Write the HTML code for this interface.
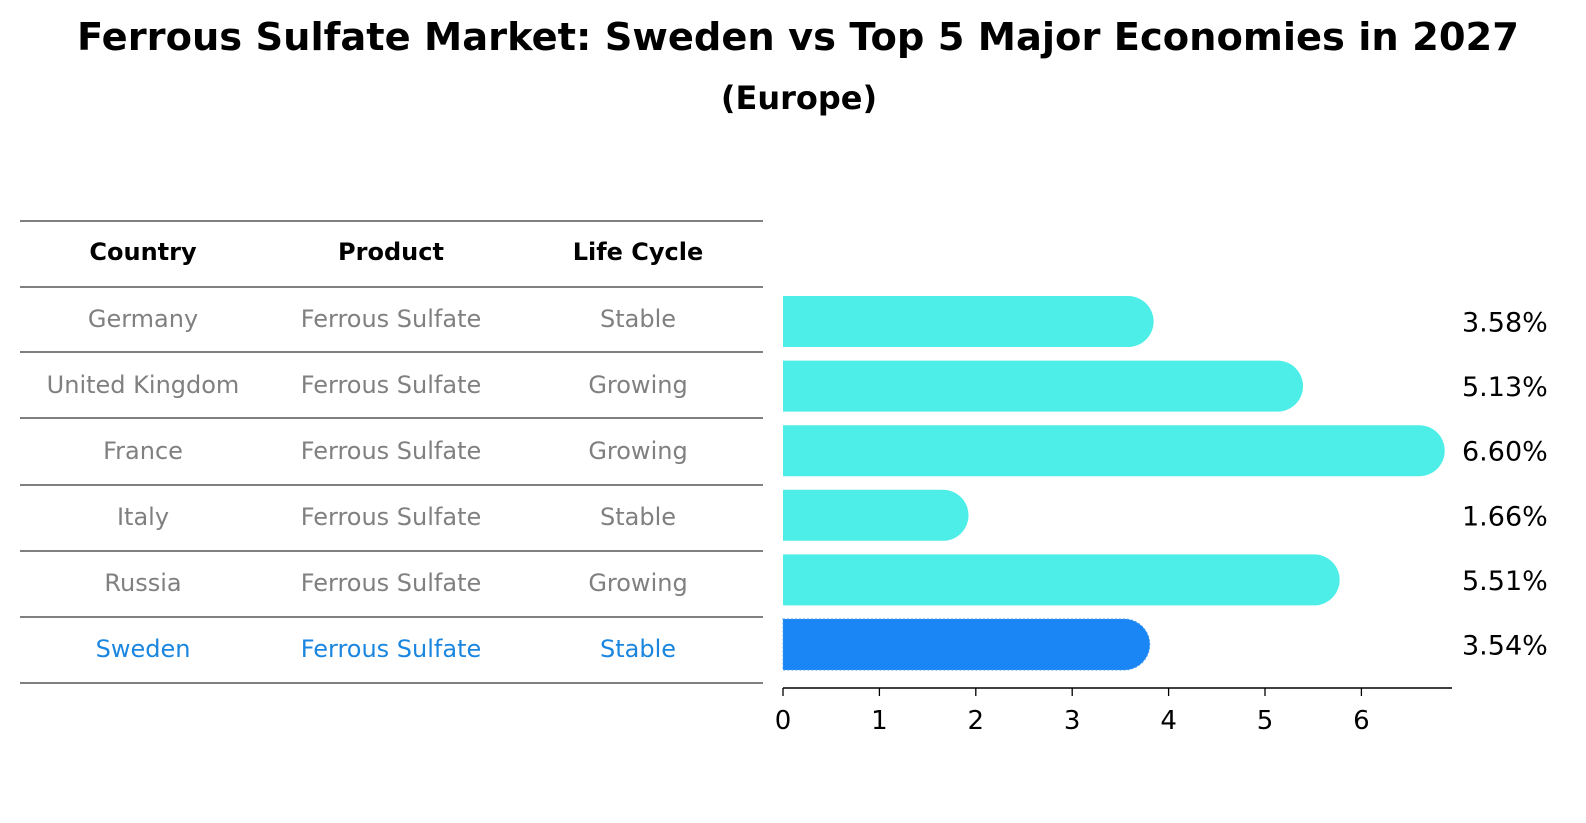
<!DOCTYPE html>
<html><head><meta charset="utf-8"><style>
html,body{margin:0;padding:0;background:#fff;overflow:hidden;width:1586px;height:823px}
svg{display:block}
</style></head><body>
<svg width="1586" height="823" xmlns="http://www.w3.org/2000/svg" style="font-family:'DejaVu Sans','Liberation Sans',sans-serif">
<rect width="1586" height="823" fill="#fff"/>
<text x="798" y="50" text-anchor="middle" font-size="38" font-weight="bold" textLength="1442" lengthAdjust="spacingAndGlyphs">Ferrous Sulfate Market: Sweden vs Top 5 Major Economies in 2027</text>
<text x="799" y="109" text-anchor="middle" font-size="32" font-weight="bold">(Europe)</text>
<g id="table"></g>
<g id="bars"></g>
<g id="axis"></g>
</svg>
<script>
const countries=["Germany","United Kingdom","France","Italy","Russia","Sweden"];
const products=["Ferrous Sulfate","Ferrous Sulfate","Ferrous Sulfate","Ferrous Sulfate","Ferrous Sulfate","Ferrous Sulfate"];
const lifecycles=["Stable","Growing","Growing","Stable","Growing","Stable"];
const values=[3.58,5.13,6.60,1.66,5.51,3.54];
const ticks=[0,1,2,3,4,5,6];
const NS="http://www.w3.org/2000/svg";
function mk(tag,attrs,parent,text){const e=document.createElementNS(NS,tag);for(const k in attrs)e.setAttribute(k,attrs[k]);if(text!==undefined)e.textContent=text;parent.appendChild(e);return e;}
const x=v=>783+v*96.4;
const yc=i=>321.5+i*64.6;
const tbl=document.getElementById('table');
const rowY=i=>287+i*66;
[221,287,352,418,485,551,617,683].forEach(yy=>{const l=mk('line',{x1:20,x2:763,y1:yy,y2:yy,stroke:'#000','stroke-width':1},tbl);

});
const cx=[143,391,638];
["Country","Product","Life Cycle"].forEach((h,j)=>{const t=mk('text',{x:cx[j],y:260,'text-anchor':'middle','font-size':24,'font-weight':'bold'},tbl,h);

});
countries.forEach((c,i)=>{const col=c==="Sweden"?"#1a86e0":"#808080";
[c,products[i],lifecycles[i]].forEach((v,j)=>{const t=mk('text',{x:cx[j],y:rowY(i)+40,'text-anchor':'middle','font-size':24,fill:col},tbl,v);

});});
const bars=document.getElementById('bars');
const h=51,r=25.5;
values.forEach((v,i)=>{const y0=yc(i)-h/2,xe=x(v);const sw=countries[i]==="Sweden";
const p=mk('path',{d:`M783,${y0} H${xe} A${r},${r} 0 0 1 ${xe},${y0+h} H783 Z`,fill:sw?'#1a86f5':'#4deee8',stroke:sw?'#4a9cf0':'none','stroke-dasharray':sw?'2,2':'', 'stroke-width':sw?1:0},bars);


const t=mk('text',{x:1462,y:yc(i)+10,'font-size':27},bars,v.toFixed(2)+'%');

});
const ax=document.getElementById('axis');
const al=mk('line',{x1:783,x2:1452,y1:688,y2:688,stroke:'#000','stroke-width':1.5},ax);


ticks.forEach(tv=>{const l=mk('line',{x1:x(tv),x2:x(tv),y1:688,y2:696,stroke:'#000','stroke-width':1.3},ax);


const t=mk('text',{x:x(tv),y:729,'text-anchor':'middle','font-size':26},ax,String(tv));

});
</script>
</body></html>
